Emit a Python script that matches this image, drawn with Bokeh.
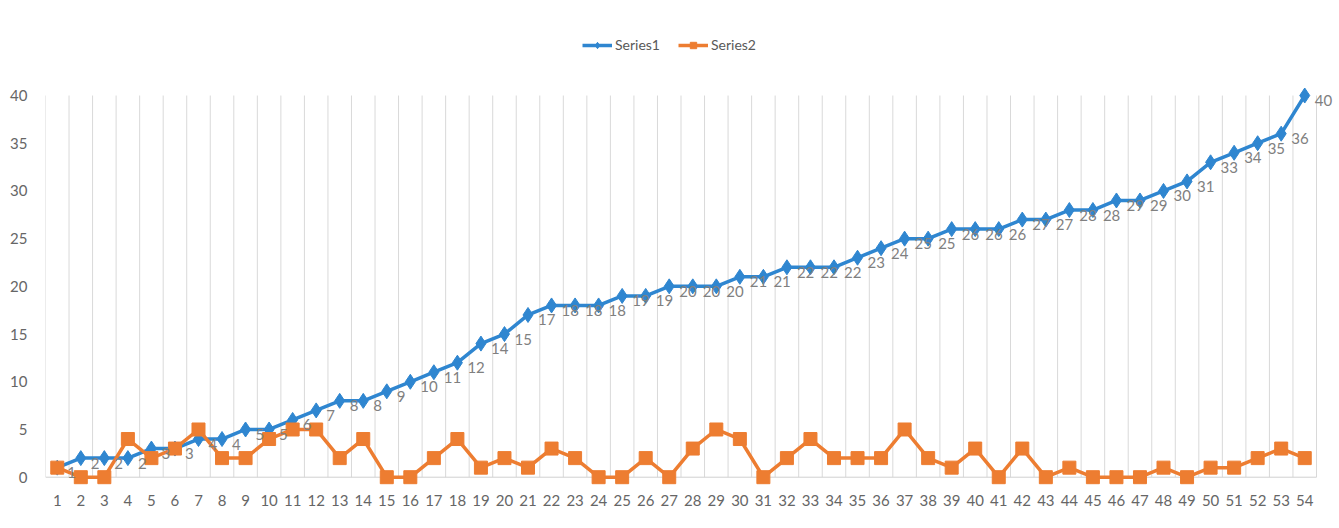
from bokeh.plotting import figure
from bokeh.models import Range1d, FixedTicker, Legend, LegendItem, ColumnDataSource
from bokeh.core.properties import value
from bokeh.embed import file_html
from bokeh.resources import INLINE

categories = list(range(1, 55))
series1 = [1, 2, 2, 2, 3, 3, 4, 4, 5, 5, 6, 7, 8, 8, 9, 10, 11, 12, 14, 15,
           17, 18, 18, 18, 19, 19, 20, 20, 20, 21, 21, 22, 22, 22, 23, 24, 25, 25, 26, 26,
           26, 27, 27, 28, 28, 29, 29, 30, 31, 33, 34, 35, 36, 40]
series2 = [1, 0, 0, 4, 2, 3, 5, 2, 2, 4, 5, 5, 2, 4, 0, 0, 2, 4, 1, 2,
           1, 3, 2, 0, 0, 2, 0, 3, 5, 4, 0, 2, 4, 2, 2, 2, 5, 2, 1, 3,
           0, 3, 0, 1, 0, 0, 0, 1, 0, 1, 1, 2, 3, 2]
y_ticks = [0, 5, 10, 15, 20, 25, 30, 35, 40]
series_names = ["Series1", "Series2"]

FONT = "Lato"
BLUE = "#2f86d0"
ORANGE = "#ed7d31"

src = ColumnDataSource(dict(
    x=categories, s1=series1, s2=series2,
    lbl=[str(v) for v in series1],
))

p = figure(width=1335, height=526, output_backend="svg", toolbar_location=None,
           x_range=Range1d(categories[0] - 0.5, categories[-1] + 1.307),
           y_range=Range1d(-1.08, 48.91),
           min_border_left=45, min_border_right=0, min_border_top=10, min_border_bottom=39)
p.outline_line_color = None
p.xgrid.grid_line_color = None
p.ygrid.grid_line_color = None
p.background_fill_color = "white"
p.border_fill_color = "white"

# vertical gridlines at category boundaries, from 0 to 40
bounds = [c - 0.5 for c in categories] + [categories[-1] + 0.5]
p.segment(x0=bounds, y0=[y_ticks[0]] * len(bounds), x1=bounds, y1=[y_ticks[-1]] * len(bounds),
          line_color="#d9d9d9", line_width=1)
# category axis line
p.segment(x0=[bounds[0]], y0=[y_ticks[0]], x1=[bounds[-1]], y1=[y_ticks[0]],
          line_color="#d0d0d0", line_width=1)

# axes
p.xaxis.ticker = FixedTicker(ticks=categories)
p.yaxis.ticker = FixedTicker(ticks=y_ticks)
for ax in (p.xaxis, p.yaxis):
    ax.axis_line_color = None
    ax.major_tick_line_color = None
    ax.minor_tick_line_color = None
    ax.major_label_text_font = FONT
    ax.major_label_text_font_size = "15px"
    ax.major_label_text_color = "#666666"
p.xaxis.major_label_standoff = 1
p.yaxis.major_label_standoff = 12

l1 = p.line("x", "s1", source=src, line_color=BLUE, line_width=3.5)
m1 = p.scatter("x", "s1", source=src, marker="diamond", size=15, fill_color=BLUE,
               line_color=BLUE, line_width=1)
l2 = p.line("x", "s2", source=src, line_color=ORANGE, line_width=3.5)
m2 = p.scatter("x", "s2", source=src, marker="square", size=13, fill_color=ORANGE,
               line_color=ORANGE)

p.text("x", "s1", text="lbl", source=src, x_offset=10, y_offset=5,
       text_align="left", text_baseline="middle",
       text_font=value(FONT), text_font_size="15px", text_color="#808080")

legend = Legend(items=[LegendItem(label=series_names[0], renderers=[l1, m1]),
                       LegendItem(label=series_names[1], renderers=[l2, m2])],
                location=(537, 434), orientation="horizontal")
legend.border_line_color = None
legend.background_fill_alpha = 0
legend.label_text_font = FONT
legend.label_text_font_size = "14px"
legend.label_text_color = "#595959"
legend.glyph_width = 30
legend.glyph_height = 16
legend.label_standoff = 3
legend.spacing = 18
legend.padding = 0
legend.margin = 0
p.add_layout(legend)

open("out.html", "w").write(file_html(p, INLINE))
